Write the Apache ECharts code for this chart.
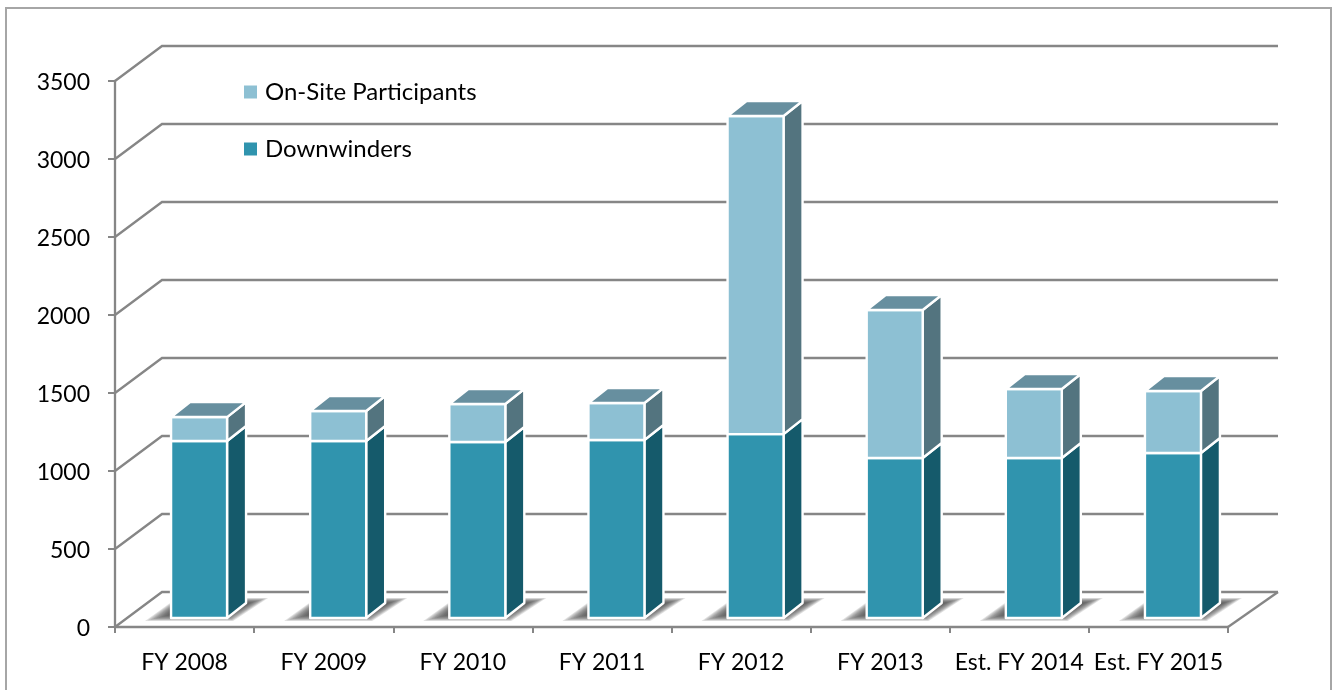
<!DOCTYPE html>
<html>
<head>
<meta charset="utf-8">
<title>Participants</title>
<script src="https://cdn.jsdelivr.net/npm/echarts@6/dist/echarts.min.js"></script>
<style>
    html, body { margin: 0; padding: 0; background: #fff; }
    #main { width: 1332px; height: 690px; }
</style>
</head>
<body>
<div id="main"></div>
<script>
var categories = ['FY 2008', 'FY 2009', 'FY 2010', 'FY 2011', 'FY 2012', 'FY 2013', 'Est. FY 2014', 'Est. FY 2015'];
var downwinders = [1135, 1135, 1128, 1141, 1179, 1026, 1026, 1058];
var onSite = [153, 192, 244, 237, 2039, 948, 442, 397];
var yTicks = [0, 500, 1000, 1500, 2000, 2500, 3000, 3500];

// fake 3d: pixel offsets of the back wall and of the bars on the floor
var WALL_DX = 47, WALL_DY = -35;
var BAR_DX = 14.5, BAR_DY = -9;
var SIDE_DX = 19, SIDE_DY = -15;
var BAR_HALF = 28;
var GRID_COLOR = '#868686';
var FONT = 'Lato';
var SHADOW_STEPS = 10;

function renderWall(params, api) {
    var p = api.coord([0, api.value(0)]);
    var left = params.coordSys.x;
    var right = left + params.coordSys.width;
    var children = [{
        type: 'polyline',
        shape: { points: [[left, p[1]], [left + WALL_DX, p[1] + WALL_DY], [right + WALL_DX + 3, p[1] + WALL_DY]] },
        style: { fill: 'none', stroke: GRID_COLOR, lineWidth: 2.3 }
    }];
    if (api.value(0) === 0) {
        children.push({
            type: 'line',
            shape: { x1: right, y1: p[1], x2: right + WALL_DX + 3, y2: p[1] + WALL_DY },
            style: { stroke: GRID_COLOR, lineWidth: 2.3 }
        });
    }
    return { type: 'group', children: children };
}

// soft floor shadow, stacked see-through shapes shrinking toward the bar foot
function renderShadow(params, api) {
    var p = api.coord([api.value(0), 0]);
    var x0 = p[0] + BAR_DX - BAR_HALF;
    var x1 = p[0] + BAR_DX + BAR_HALF;
    var y = p[1] + BAR_DY;
    var outer = [[x0 - 26, y + 3], [x1 + 6, y + 3], [x1 + 41, y - 20], [x0 + 6, y - 20]];
    var inner = [[x0 - 2, y - 3], [x1, y - 3], [x1 + 22, y - 15], [x0 + 10, y - 15]];
    var children = [];
    for (var s = 0; s < SHADOW_STEPS; s++) {
        var t = s / (SHADOW_STEPS - 1);
        children.push({
            type: 'polygon',
            shape: {
                points: outer.map(function (o, k) {
                    return [o[0] + (inner[k][0] - o[0]) * t, o[1] + (inner[k][1] - o[1]) * t];
                })
            },
            style: { fill: 'rgba(70,70,70,0.16)' },
            silent: true
        });
    }
    return { type: 'group', children: children };
}

function barRenderer(front, side, top, capped) {
    return function (params, api) {
        var idx = api.value(0);
        var base = api.value(2);
        var p0 = api.coord([idx, base]);
        var p1 = api.coord([idx, base + api.value(1)]);
        var x0 = p0[0] + BAR_DX - BAR_HALF;
        var x1 = p0[0] + BAR_DX + BAR_HALF;
        var yb = p0[1] + BAR_DY;
        var yt = p1[1] + BAR_DY;
        var edge = { stroke: '#fff', lineWidth: 2.4, lineJoin: 'round' };
        var children = [{
            type: 'polygon',
            shape: { points: [[x1, yb], [x1 + SIDE_DX, yb + SIDE_DY], [x1 + SIDE_DX, yt + SIDE_DY], [x1, yt]] },
            style: Object.assign({ fill: side }, edge)
        }, {
            type: 'rect',
            shape: { x: x0, y: yt, width: x1 - x0, height: yb - yt },
            style: Object.assign({ fill: front }, edge)
        }];
        if (capped) {
            children.push({
                type: 'polygon',
                shape: { points: [[x0, yt], [x1, yt], [x1 + SIDE_DX, yt + SIDE_DY], [x0 + SIDE_DX, yt + SIDE_DY]] },
                style: Object.assign({ fill: top }, edge)
            });
        }
        return { type: 'group', children: children };
    };
}

var dwData = [], onSiteData = [], shadowData = [];
for (var i = 0; i < categories.length; i++) {
    dwData.push([i, downwinders[i], 0]);
    onSiteData.push([i, onSite[i], downwinders[i]]);
    shadowData.push([i]);
}

var chart = echarts.init(document.getElementById('main'));
chart.setOption({
    animation: false,
    backgroundColor: '#fff',
    graphic: [{
        type: 'rect',
        shape: { x: 6, y: 8, width: 1325, height: 700 },
        style: { fill: 'none', stroke: '#a6a6a6', lineWidth: 2 },
        silent: true,
        z: -1
    }],
    grid: { left: 115, right: 104, top: 81, bottom: 63 },
    legend: {
        orient: 'vertical',
        left: 239,
        top: 75,
        itemWidth: 13,
        itemHeight: 13,
        itemGap: 33,
        icon: 'rect',
        selectedMode: false,
        textStyle: { fontFamily: FONT, fontSize: 24, color: '#000', padding: [0, 0, 0, 3] },
        data: ['On-Site Participants', 'Downwinders']
    },
    xAxis: {
        type: 'category',
        data: categories,
        axisLine: { lineStyle: { color: GRID_COLOR, width: 2.3 } },
        axisTick: { show: true, length: 6, alignWithLabel: false, lineStyle: { color: GRID_COLOR, width: 2 } },
        axisLabel: { margin: 24, fontFamily: FONT, fontSize: 23, color: '#000', interval: 0 },
        splitLine: { show: false }
    },
    yAxis: {
        type: 'value',
        min: 0,
        max: 3500,
        interval: 500,
        axisLine: { show: true, lineStyle: { color: GRID_COLOR, width: 2.3 } },
        axisTick: { show: true, length: 7, lineStyle: { color: GRID_COLOR, width: 2 } },
        axisLabel: {
            margin: 25,
            formatter: function (v) { return '{t|' + v + '}'; },
            rich: { t: { fontFamily: FONT, fontSize: 23, color: '#000', padding: [4, 0, 0, 0] } }
        },
        splitLine: { show: false }
    },
    series: [{
        type: 'custom',
        name: 'wall',
        data: yTicks.map(function (v) { return [v]; }),
        renderItem: renderWall,
        encode: { y: 0 },
        silent: true,
        clip: false,
        z: 1
    }, {
        type: 'custom',
        name: 'shadow',
        data: shadowData,
        renderItem: renderShadow,
        encode: { x: 0 },
        silent: true,
        clip: false,
        z: 2
    }, {
        type: 'custom',
        name: 'Downwinders',
        data: dwData,
        renderItem: barRenderer('#3094ae', '#155a6b', '#678f9f', false),
        encode: { x: 0, y: 1 },
        itemStyle: { color: '#3094ae' },
        clip: false,
        z: 3
    }, {
        type: 'custom',
        name: 'On-Site Participants',
        data: onSiteData,
        renderItem: barRenderer('#8dc0d3', '#53747f', '#678f9f', true),
        encode: { x: 0, y: 1 },
        itemStyle: { color: '#8dc0d3' },
        clip: false,
        z: 4
    }]
});
</script>
</body>
</html>
